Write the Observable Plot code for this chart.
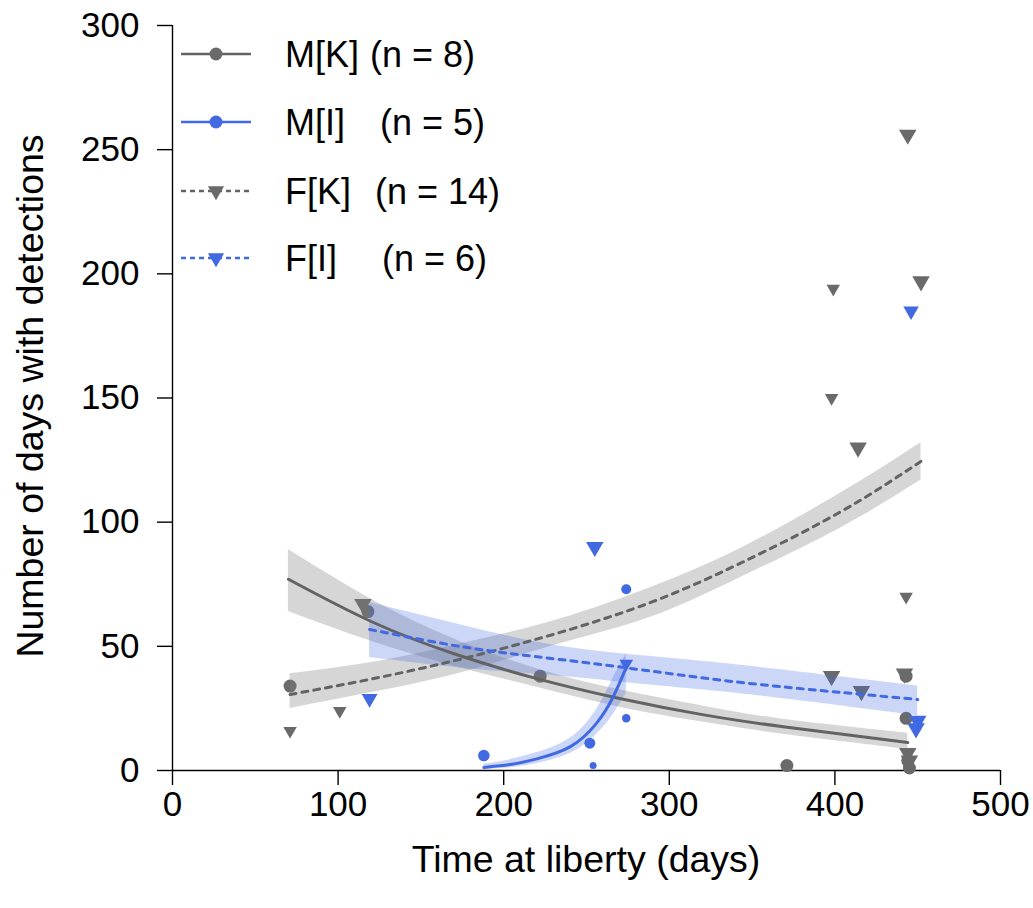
<!DOCTYPE html>
<html><head><meta charset="utf-8">
<script src="https://cdn.jsdelivr.net/npm/d3@7"></script>
<script src="https://cdn.jsdelivr.net/npm/@observablehq/plot@0.6"></script>
<style>body{margin:0;background:#fff;}</style>
</head><body><div id="chart"></div>
<script>
// ---- tick labels ----
const xTicks = [0, 100, 200, 300, 400, 500];
const yTicks = [0, 50, 100, 150, 200, 250, 300];

// ---- observed points (x = time at liberty, y = days with detections, w = marker size value) ----
const mkX = [71, 118, 222, 371, 443, 443, 444, 445];
const mkY = [34, 64, 38, 2, 38, 21, 4, 1];
const mkW = [3, 3, 3, 3, 3, 3, 3, 3];

const miX = [188, 252, 254, 274, 274];
const miY = [6, 11, 2, 73, 21];
const miW = [2.5, 2.3, 1, 2, 1.5];

const fkX = [71, 101, 115, 398, 398, 399, 414, 416, 442, 443, 444, 444, 452, 445];
const fkY = [16, 24, 67, 38, 150, 194, 130, 32, 39, 70, 256, 7, 197, 4];
const fkW = [2, 2, 3, 3, 2, 2, 3, 3, 3, 2, 3, 3, 3, 3];

const fiX = [119, 255, 274, 446, 450, 449];
const fiY = [29, 90, 43, 185, 20, 17];
const fiW = [2.6, 3, 2, 2.5, 3, 3];

// ---- fitted curves with confidence bands ----
const mkFitX = [70, 120, 170, 220, 270, 320, 370, 444];
const mkFitY = [77, 60, 47, 37, 29, 22.5, 17.5, 11.3];
const mkLo   = [64, 52, 42, 33.5, 25.5, 19.5, 14.5, 8.5];
const mkHi   = [89, 69, 53, 41, 32.5, 26, 20.5, 15];

const fkFitX = [71, 125, 178, 234, 290, 343, 403, 452];
const fkFitY = [30.6, 37.5, 45.5, 55.6, 68, 83.5, 104, 124.5];
const fkLo   = [25, 32, 40, 51, 62, 77.7, 97.5, 117];
const fkHi   = [39, 44, 51.5, 61, 74, 89.4, 111.5, 132];

const fiFitX = [119, 178, 234, 295, 355, 450];
const fiFitY = [56.8, 49.5, 44.7, 39.5, 34.6, 28.6];
const fiLo   = [45.5, 41, 38, 34, 30, 22];
const fiHi   = [67.7, 58, 50, 45.5, 41.5, 34];

const miFitX = [188, 205, 220, 240, 256, 266, 274];
const miFitY = [1.2, 2.5, 4.7, 9.5, 19, 29.5, 41.5];
const miLo   = [0.3, 1.2, 2.8, 6.8, 14.5, 22.5, 31];
const miHi   = [2.5, 4.5, 7.2, 13, 24.5, 37, 47];

// ---- legend ----
const legendNames = ["M[K]", "M[I]", "F[K]", "F[I]"];
const legendNs = ["(n = 8)", "(n = 5)", "(n = 14)", "(n = 6)"];

const GRAY = "#6a6a6a", LINEGRAY = "#636363", BLUE = "#4169e1";
const triDown = {
  draw(ctx, size) {
    const a = Math.sqrt(4 * size / Math.sqrt(3));
    const h = a * Math.sqrt(3) / 2;
    ctx.moveTo(0, 2 * h / 3);
    ctx.lineTo(-a / 2, -h / 3);
    ctx.lineTo(a / 2, -h / 3);
    ctx.closePath();
  }
};
const pts = (xs, ys, ws) => xs.map((x, i) => ({x, y: ys[i], w: ws[i]}));
const fit = (xs, ys, lo, hi) => xs.map((x, i) => ({x, y: ys[i], lo: lo[i], hi: hi[i]}));

const mk = pts(mkX, mkY, mkW), mi = pts(miX, miY, miW), fk = pts(fkX, fkY, fkW), fi = pts(fiX, fiY, fiW);
const mkF = fit(mkFitX, mkFitY, mkLo, mkHi), fkF = fit(fkFitX, fkFitY, fkLo, fkHi);
const fiF = fit(fiFitX, fiFitY, fiLo, fiHi), miF = fit(miFitX, miFitY, miLo, miHi);

const chart = Plot.plot({
  width: 1033, height: 908,
  marginLeft: 172, marginRight: 33, marginTop: 25, marginBottom: 138,
  style: {fontFamily: "'Liberation Sans', Arial, sans-serif", fontSize: "35px", background: "white", color: "black", overflow: "visible"},
  x: {domain: [0, 500]},
  y: {domain: [0, 300]},
  r: {type: "linear", domain: [1, 3], range: [3.5, 6.5]},
  marks: [
    Plot.axisX({ticks: xTicks, tickSize: 15, tickPadding: 6, label: null, strokeWidth: 1.4}),
    Plot.axisY({ticks: yTicks, tickSize: 15, tickPadding: 18, label: null, strokeWidth: 1.4}),
    Plot.ruleY([0], {strokeWidth: 1.4}),
    Plot.ruleX([0], {strokeWidth: 1.4}),
    Plot.dot(mk, {x: "x", y: "y", r: "w", fill: GRAY, symbol: "circle"}),
    Plot.dot(mi, {x: "x", y: "y", r: "w", fill: BLUE, symbol: "circle"}),
    Plot.dot(fk, {x: "x", y: "y", r: "w", fill: GRAY, symbol: triDown}),
    Plot.dot(fi, {x: "x", y: "y", r: "w", fill: BLUE, symbol: triDown}),
    Plot.areaY(mkF, {x: "x", y1: "lo", y2: "hi", fill: "#808080", fillOpacity: 0.32, curve: "natural"}),
    Plot.areaY(fkF, {x: "x", y1: "lo", y2: "hi", fill: "#808080", fillOpacity: 0.32, curve: "natural"}),
    Plot.areaY(fiF, {x: "x", y1: "lo", y2: "hi", fill: BLUE, fillOpacity: 0.27, curve: "natural"}),
    Plot.areaY(miF, {x: "x", y1: "lo", y2: "hi", fill: BLUE, fillOpacity: 0.27, curve: "natural"}),
    Plot.line(mkF, {x: "x", y: "y", stroke: LINEGRAY, strokeWidth: 3, curve: "natural"}),
    Plot.line(fkF, {x: "x", y: "y", stroke: LINEGRAY, strokeWidth: 3, strokeDasharray: "6,6", curve: "natural"}),
    Plot.line(fiF, {x: "x", y: "y", stroke: BLUE, strokeWidth: 3, strokeDasharray: "6,6", curve: "natural"}),
    Plot.line(miF, {x: "x", y: "y", stroke: BLUE, strokeWidth: 3, curve: "natural"})
  ]
});
document.getElementById("chart").appendChild(chart);

const svg = d3.select(chart);
svg.append("text").attr("x", 586).attr("y", 872).attr("text-anchor", "middle")
  .style("font-size", "37.5px").attr("fill", "black").text("Time at liberty (days)");
svg.append("text").attr("transform", "translate(43,396) rotate(-90)").attr("text-anchor", "middle")
  .style("font-size", "37.5px").attr("fill", "black").text("Number of days with detections");

// legend
const rowY = [54, 122, 191, 258];
const nX = [370, 380, 375, 382];
const lcol = [LINEGRAY, BLUE, LINEGRAY, BLUE];
const lfill = [GRAY, BLUE, GRAY, BLUE];
const ldash = [null, null, "5,4", "5,4"];
const lg = svg.append("g").attr("text-anchor", "start");
legendNames.forEach((name, i) => {
  const y = rowY[i];
  lg.append("line").attr("x1", 181).attr("x2", 251).attr("y1", y).attr("y2", y)
    .attr("stroke", lcol[i]).attr("stroke-width", 2.5).attr("stroke-dasharray", ldash[i]);
  const sym = i < 2 ? d3.symbolCircle : triDown;
  lg.append("path").attr("transform", `translate(216,${y})`)
    .attr("d", d3.symbol(sym, i < 2 ? Math.PI * 6.5 * 6.5 : Math.PI * 6 * 6)()).attr("fill", lfill[i]);
  lg.append("text").attr("x", 285).attr("y", y).attr("dy", "0.36em").attr("text-anchor", "start")
    .style("font-size", "36px").text(name);
  lg.append("text").attr("x", nX[i]).attr("y", y).attr("dy", "0.36em").attr("text-anchor", "start")
    .style("font-size", "36px").text(legendNs[i]);
});
</script></body></html>
